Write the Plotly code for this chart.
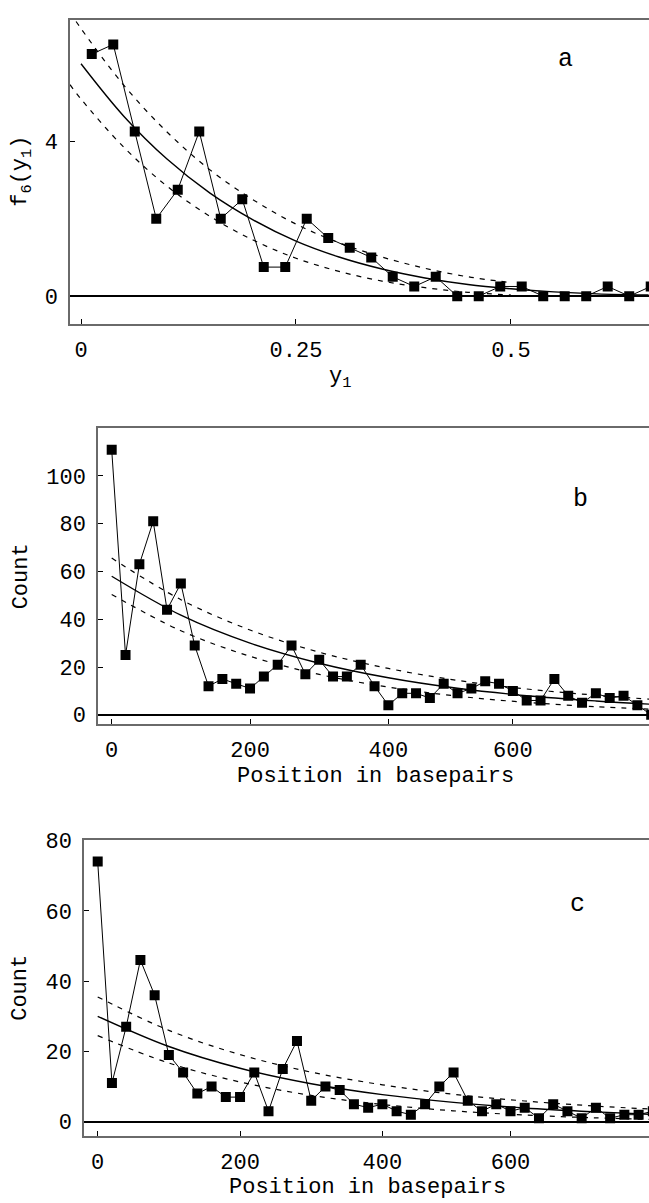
import plotly.graph_objects as go

W, H = 649, 1203
FONT = "Liberation Mono"

# ---------------- Panel a ----------------
a_x = [0.0125, 0.0375, 0.0625, 0.0875, 0.1125, 0.1375, 0.1625, 0.1875, 0.2125,
       0.2375, 0.2625, 0.2875, 0.3125, 0.3375, 0.3625, 0.3875, 0.4125, 0.4375,
       0.4625, 0.4875, 0.5125, 0.5375, 0.5625, 0.5875, 0.6125, 0.6375, 0.6625]
a_y = [6.25, 6.5, 4.25, 2.0, 2.75, 4.25, 2.0, 2.5, 0.75, 0.75, 2.0, 1.5, 1.25,
       1.0, 0.5, 0.25, 0.5, 0, 0, 0.25, 0.25, 0, 0, 0, 0.25, 0, 0.25]
# fitted curve and band
a_fit_x = [0.0, 0.05, 0.1, 0.15, 0.2, 0.25, 0.3, 0.35, 0.4, 0.45, 0.5, 0.55, 0.6, 0.66]
a_fit_y = [6.0, 4.64, 3.54, 2.66, 1.97, 1.42, 1.01, 0.70, 0.47, 0.30, 0.19, 0.11, 0.06, 0.03]
a_band_x = [-0.0128, 0.0, 0.05, 0.1, 0.15, 0.2, 0.25, 0.3, 0.35, 0.4, 0.45, 0.5]
a_up_y = [7.33, 6.91, 5.44, 4.24, 3.26, 2.49, 1.86, 1.38, 1.01, 0.72, 0.50, 0.35]
a_lo_y = [5.46, 5.09, 3.84, 2.84, 2.06, 1.45, 0.98, 0.64, 0.39, 0.22, 0.10, 0.03]
a_xticks = [0, 0.25, 0.5]
a_xtext = ["0", "0.25", "0.5"]
a_yticks = [0, 4]

# ---------------- Panel b ----------------
b_x = [0, 20, 40, 60, 80, 100, 120, 140, 160, 180, 200, 220, 240, 260, 280, 300,
       320, 340, 360, 380, 400, 420, 440, 460, 480, 500, 520, 540, 560, 580, 600,
       620, 640, 660, 680, 700, 720, 740, 760, 780]
b_y = [111, 25, 63, 81, 44, 55, 29, 12, 15, 13, 11, 16, 21, 29, 17, 23, 16, 16,
       21, 12, 4, 9, 9, 7, 13, 9, 11, 14, 13, 10, 6, 6, 15, 8, 5, 9, 7, 8, 4, 0]
b_fit_x = [0, 100, 200, 300, 400, 500, 600, 700, 780]
b_fit_y = [58.0, 41.7, 30.0, 21.6, 15.5, 11.1, 8.0, 5.8, 4.4]
b_up_y = [65.6, 48.2, 35.5, 26.2, 19.4, 14.4, 10.8, 8.2, 6.5]
b_lo_y = [50.4, 35.2, 24.5, 16.9, 11.6, 7.8, 5.2, 3.4, 2.3]

# ---------------- Panel c ----------------
c_x = b_x
c_y = [74, 11, 27, 46, 36, 19, 14, 8, 10, 7, 7, 14, 3, 15, 23, 6, 10, 9, 5, 4,
       5, 3, 2, 5, 10, 14, 6, 3, 5, 3, 4, 1, 5, 3, 1, 4, 1, 2, 2, 3]
c_fit_x = [0, 100, 200, 300, 400, 500, 600, 700, 780]
c_fit_y = [30.0, 21.4, 15.2, 10.8, 7.7, 5.5, 3.9, 2.8, 2.1]
c_up_y = [35.5, 26.0, 19.1, 14.1, 10.5, 7.8, 5.9, 4.45, 3.6]
c_lo_y = [24.5, 16.7, 11.3, 7.5, 4.9, 3.1, 1.9, 1.1, 0.66]

pos_xticks = [0, 200, 400, 580]
pos_xtext = ["0", "200", "400", "600"]
b_yticks = [0, 20, 40, 60, 80, 100]
c_yticks = [0, 20, 40, 60, 80]

fig = go.Figure()

def add_panel(xd, yd, fx, fy, bx, uy, ly, xa, ya):
    dash = dict(color="black", width=1.2, dash="5px,6px", shape="spline")
    fig.add_trace(go.Scatter(x=bx, y=uy, mode="lines", line=dash, xaxis=xa, yaxis=ya, hoverinfo="skip"))
    fig.add_trace(go.Scatter(x=bx, y=ly, mode="lines", line=dash, xaxis=xa, yaxis=ya, hoverinfo="skip"))
    fig.add_trace(go.Scatter(x=fx, y=fy, mode="lines", line=dict(color="black", width=1.4, shape="spline"),
                             xaxis=xa, yaxis=ya, hoverinfo="skip"))
    fig.add_trace(go.Scatter(x=xd, y=yd, mode="lines+markers", line=dict(color="black", width=1),
                             marker=dict(symbol="square", size=10, color="black", line=dict(width=0)),
                             xaxis=xa, yaxis=ya))

add_panel(a_x, a_y, a_fit_x, a_fit_y, a_band_x, a_up_y, a_lo_y, "x", "y")
add_panel(b_x, b_y, b_fit_x, b_fit_y, b_fit_x, b_up_y, b_lo_y, "x2", "y2")
add_panel(c_x, c_y, c_fit_x, c_fit_y, c_fit_x, c_up_y, c_lo_y, "x3", "y3")

def px_x(p):
    return p / W

def px_y(p):
    return 1 - p / H

tickfont = dict(family=FONT, size=22, color="black")
frame = "#6a6a6a"

def xaxis(dom_left, rng, tv, tt, anchor):
    return dict(domain=[px_x(dom_left), 1.0], range=rng, anchor=anchor,
                tickvals=tv, ticktext=tt, ticks="inside", ticklen=5, tickwidth=1, tickcolor="black",
                showline=True, linecolor=frame, linewidth=1.5, mirror=True,
                showgrid=False, zeroline=False, tickfont=tickfont, ticklabelstandoff=5)

def yaxis(top, bottom, rng, tv, anchor):
    return dict(domain=[px_y(bottom), px_y(top)], range=rng, anchor=anchor,
                tickvals=tv, ticks="inside", ticklen=5, tickwidth=1, tickcolor="black",
                showline=True, linecolor=frame, linewidth=1.5, mirror=False,
                showgrid=False, zeroline=True, zerolinecolor="black", zerolinewidth=1.5,
                tickfont=tickfont, ticklabelstandoff=6)

fig.update_layout(
    width=W, height=H, margin=dict(l=0, r=0, t=0, b=0),
    paper_bgcolor="white", plot_bgcolor="white", showlegend=False,
    xaxis=xaxis(70, [-0.0128, 0.6605], a_xticks, a_xtext, "y"),
    yaxis=yaxis(10, 318, [-0.713, 7.134], a_yticks, "x"),
    xaxis2=xaxis(98, [-19.8, 776.8], pos_xticks, pos_xtext, "y2"),
    yaxis2=yaxis(423.3, 723.3, [-3.72, 120.2], b_yticks, "x2"),
    xaxis3=xaxis(84, [-19.25, 774.6], pos_xticks, pos_xtext, "y3"),
    yaxis3=yaxis(841, 1141, [-4.01, 80.2], c_yticks, "x3"),
)

def ann(text, x, y, size=22, angle=0):
    fig.add_annotation(text=text, x=px_x(x), y=px_y(y), xref="paper", yref="paper",
                       showarrow=False, textangle=angle, xanchor="center", yanchor="middle",
                       font=dict(family=FONT, size=size, color="black"))

# axis titles
ann("f<sub>6</sub>(y<sub>1</sub>)", 22, 164, angle=-90)
ann("y<sub>1</sub>", 340, 373)
ann("Count", 21, 574, angle=-90)
ann("Position in basepairs", 375, 777)
ann("Count", 21, 991, angle=-90)
ann("Position in basepairs", 367, 1193)
# panel letters
ann("a", 565, 50, size=25)
ann("b", 580, 496, size=25)
ann("c", 577, 907, size=25)

fig.write_html("out.html")
